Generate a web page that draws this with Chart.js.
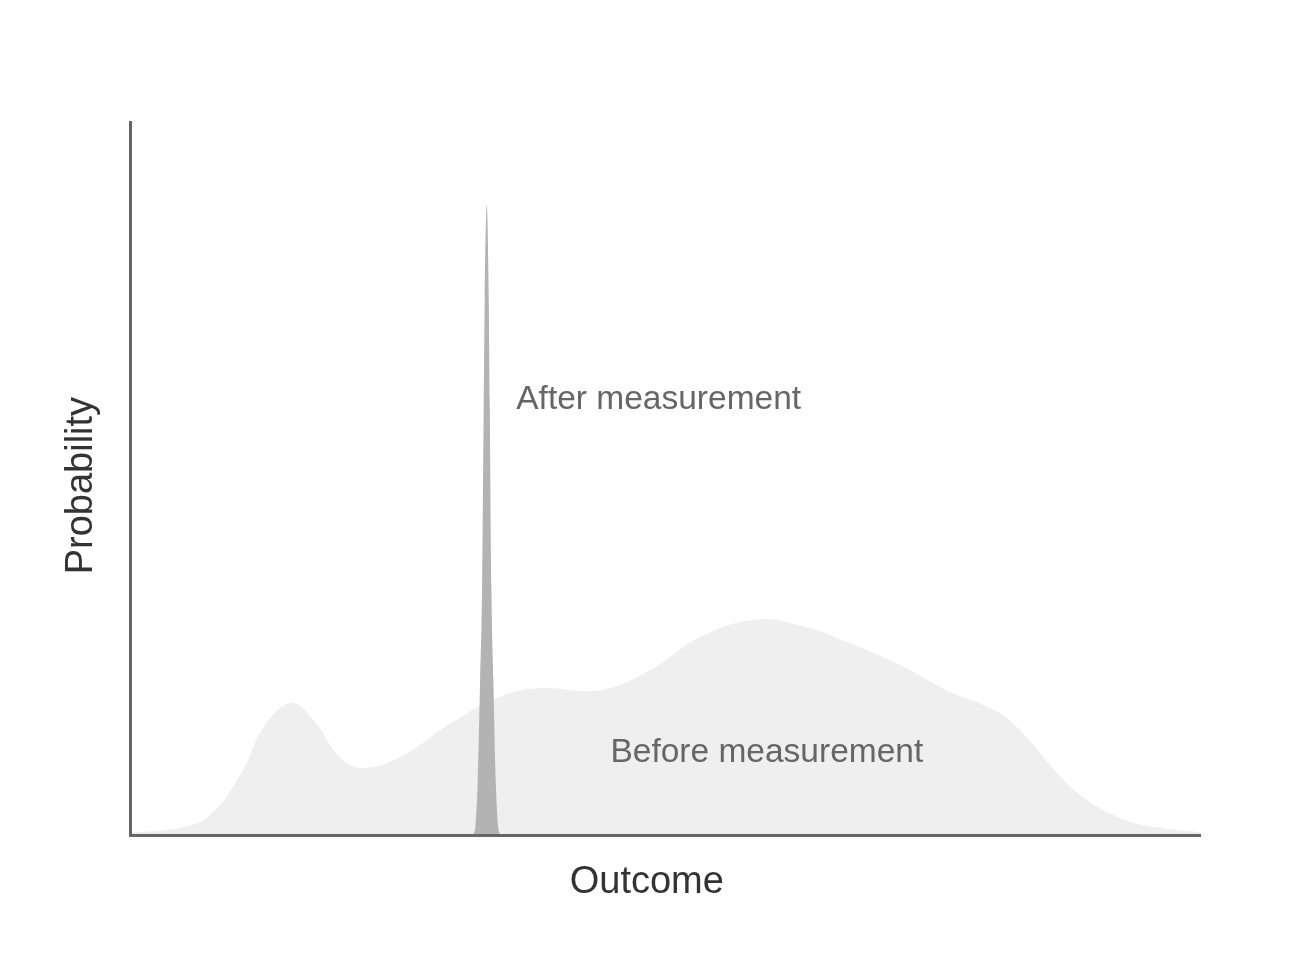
<!DOCTYPE html>
<html>
<head>
<meta charset="utf-8">
<title>Measurement</title>
<script src="https://cdn.jsdelivr.net/npm/chart.js@4/dist/chart.umd.min.js"></script>
<style>
  html, body { margin: 0; padding: 0; background: #fff; }
  #wrap { width: 1299px; height: 974px; }
</style>
</head>
<body>
<div id="wrap"><canvas id="chart"></canvas></div>
<script>
// Outcome / probability (x: 0..100, y: 0..100)
const beforeOutcome = [0, 4.7, 7.5, 10.3, 12.6, 15.1, 17.3, 19.6, 21.7, 25.2, 29.9, 34.6, 38.3, 43.9, 48.6, 53.3, 58.4, 62.6, 67.3, 72, 76.6, 80.8, 83.2, 86, 88.8, 92.5, 96.3, 100];
const beforeProb = [0.3, 1, 2.8, 8.4, 15.4, 18.5, 15.8, 10.9, 9.4, 10.9, 15.6, 19.4, 20.6, 20.3, 23.1, 27.8, 30.2, 29.4, 26.9, 23.8, 20.1, 17.5, 14.7, 9.8, 5.6, 2.4, 1, 0.4];

const afterOutcome = [32.08, 32.3, 32.5, 32.72, 32.9, 33.06, 33.15, 33.34, 33.53, 33.62, 33.78, 33.96, 34.18, 34.38, 34.6];
const afterProb = [0, 1.5, 7.7, 21.7, 34.4, 61, 75, 88.4, 75, 61, 34.4, 21.7, 7.7, 1.5, 0];

const xTitle = "Outcome";
const yTitle = "Probability";
const labels = [
  { text: "After measurement", x: 36.1, y: 61 },
  { text: "Before measurement", x: 44.9, y: 11.5 }
];

const FONT = '"Liberation Sans", Arial, Helvetica, sans-serif';

const toPoints = (xs, ys) => xs.map((x, i) => ({ x: x, y: ys[i] }));

// text labels placed through the scales
const textPlugin = {
  id: "texts",
  afterDatasetsDraw(chart) {
    const { ctx, scales: { x, y } } = chart;
    ctx.save();
    ctx.fillStyle = "#666666";
    ctx.font = "33.5px " + FONT;
    ctx.textAlign = "left";
    ctx.textBaseline = "middle";
    labels.forEach(l => {
      ctx.fillText(l.text, x.getPixelForValue(l.x), y.getPixelForValue(l.y));
    });

    ctx.fillStyle = "#333333";
    ctx.font = "38px " + FONT;
    ctx.textAlign = "center";
    ctx.fillText(xTitle, x.getPixelForValue(48.3), 883);

    ctx.translate(82, y.getPixelForValue(49));
    ctx.rotate(-Math.PI / 2);
    ctx.fillText(yTitle, 0, 0);
    ctx.restore();
  }
};

new Chart(document.getElementById("chart"), {
  type: "line",
  data: {
    datasets: [
      {
        label: "After measurement",
        data: toPoints(afterOutcome, afterProb),
        borderWidth: 0,
        borderColor: "rgba(0,0,0,0)",
        backgroundColor: "#b3b3b3",
        fill: "origin",
        pointRadius: 0,
        cubicInterpolationMode: "monotone",
        order: 1
      },
      {
        label: "Before measurement",
        data: toPoints(beforeOutcome, beforeProb),
        borderWidth: 0,
        borderColor: "rgba(0,0,0,0)",
        backgroundColor: "#efefef",
        fill: "origin",
        pointRadius: 0,
        tension: 0.4,
        order: 2
      }
    ]
  },
  options: {
    responsive: true,
    maintainAspectRatio: false,
    animation: false,
    layout: {
      padding: { left: 122, top: 122, right: 99, bottom: 131 }
    },
    plugins: {
      legend: { display: false },
      tooltip: { enabled: false }
    },
    scales: {
      x: {
        type: "linear",
        min: 0,
        max: 100,
        grid: { display: false },
        ticks: { display: false },
        border: { display: true, color: "#666666", width: 3, z: 1 }
      },
      y: {
        min: 0,
        max: 100,
        grid: { display: false },
        ticks: { display: false },
        border: { display: true, color: "#666666", width: 3, z: 1 }
      }
    }
  },
  plugins: [textPlugin]
});
</script>
</body>
</html>
